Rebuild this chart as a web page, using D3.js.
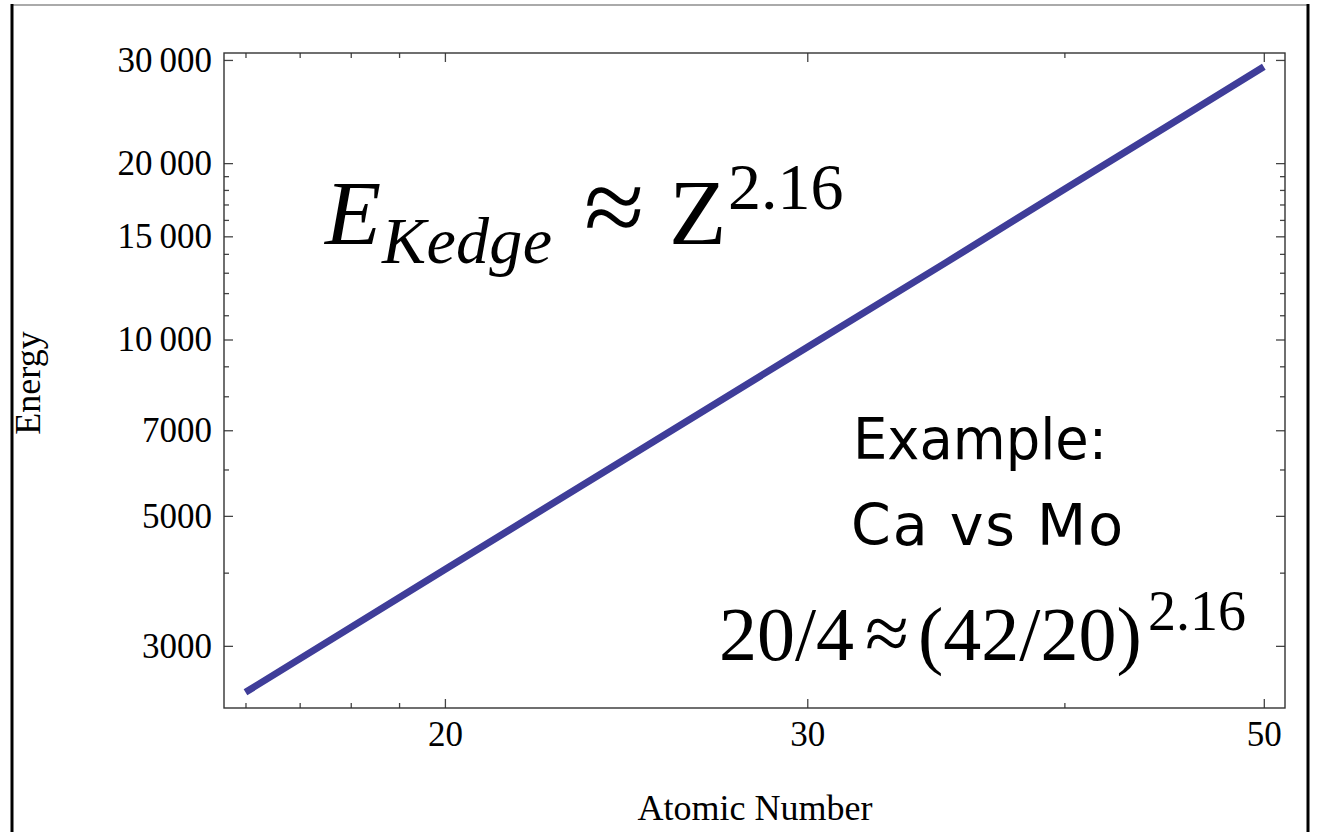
<!DOCTYPE html>
<html lang="en">
<head>
    <meta charset="UTF-8" />
    <title>K-edge energy vs atomic number</title>
    <script src="https://d3js.org/d3.v7.min.js"></script>
    <style>
        body { margin: 0; background: #fff; }
        text, tspan { font-family: "Liberation Serif", "Times New Roman", serif; fill: #000; }
    </style>
</head>
<body>
    <div id="chart"></div>

    <script>
        var w = 1317;
        var h = 832;
        var plot = { left: 224, right: 1285, top: 53, bottom: 708 };

        // line values
        var atomicNumber = [16, 20, 25, 30, 35, 40, 45, 50];
        var energy = [2500, 4050, 6550, 9700, 13500, 18050, 23250, 29200];

        // tick values
        var xMajorTicks = [20, 30, 50];
        var xMinorTicks = [16, 17, 18, 19, 40];
        var yMajorTicks = [3000, 5000, 7000, 10000, 15000, 20000, 30000];
        var yTickLabels = ["3000", "5000", "7000", "10\u2009000", "15\u2009000", "20\u2009000", "30\u2009000"];
        var yMinorTicks = [4000, 6000, 8000, 9000, 11000, 12000, 13000, 14000, 16000, 17000, 18000, 19000];

        var svg = d3.select("#chart")
            .append("svg")
            .attr("width", w)
            .attr("height", h);

        // outer frame of the slide picture
        svg.append("line")
            .attr("x1", 12).attr("x2", 1308).attr("y1", 5).attr("y2", 5)
            .attr("stroke", "#aaa").attr("stroke-width", 2);
        svg.append("line")
            .attr("x1", 12).attr("x2", 12).attr("y1", 4).attr("y2", h)
            .attr("stroke", "#000").attr("stroke-width", 3);
        svg.append("line")
            .attr("x1", 1308).attr("x2", 1308).attr("y1", 4).attr("y2", h)
            .attr("stroke", "#000").attr("stroke-width", 3);

        var xScale = d3.scaleLog()
            .domain([15.62, 51.2])
            .range([plot.left, plot.right]);

        var yScale = d3.scaleLog()
            .domain([2350, 30830])
            .range([plot.bottom, plot.top]);

        function styleAxis(g) {
            g.select(".domain").remove();
            g.selectAll(".tick line").attr("stroke", "#444").attr("stroke-width", 1.3);
            g.selectAll(".tick text")
                .style("font-family", "'Liberation Serif', 'Times New Roman', serif")
                .style("font-size", "35px")
                .attr("fill", "#000");
        }

        // bottom axis
        svg.append("g")
            .attr("transform", "translate(0," + plot.bottom + ")")
            .call(d3.axisBottom(xScale).tickValues(xMajorTicks).tickFormat(d3.format("d"))
                .tickSizeInner(-9).tickSizeOuter(0).tickPadding(13))
            .call(styleAxis);
        svg.append("g")
            .attr("transform", "translate(0," + plot.bottom + ")")
            .call(d3.axisBottom(xScale).tickValues(xMinorTicks).tickFormat("")
                .tickSizeInner(-5).tickSizeOuter(0))
            .call(styleAxis);

        // top axis (mirror, no labels)
        svg.append("g")
            .attr("transform", "translate(0," + plot.top + ")")
            .call(d3.axisTop(xScale).tickValues(xMajorTicks).tickFormat("")
                .tickSizeInner(-9).tickSizeOuter(0))
            .call(styleAxis);
        svg.append("g")
            .attr("transform", "translate(0," + plot.top + ")")
            .call(d3.axisTop(xScale).tickValues(xMinorTicks).tickFormat("")
                .tickSizeInner(-5).tickSizeOuter(0))
            .call(styleAxis);

        // left axis
        svg.append("g")
            .attr("transform", "translate(" + plot.left + ",0)")
            .call(d3.axisLeft(yScale).tickValues(yMajorTicks)
                .tickFormat(function (d, i) { return yTickLabels[i]; })
                .tickSizeInner(-9).tickSizeOuter(0).tickPadding(12))
            .call(styleAxis);
        svg.append("g")
            .attr("transform", "translate(" + plot.left + ",0)")
            .call(d3.axisLeft(yScale).tickValues(yMinorTicks).tickFormat("")
                .tickSizeInner(-5).tickSizeOuter(0))
            .call(styleAxis);

        // right axis (mirror, no labels)
        svg.append("g")
            .attr("transform", "translate(" + plot.right + ",0)")
            .call(d3.axisRight(yScale).tickValues(yMajorTicks).tickFormat("")
                .tickSizeInner(-9).tickSizeOuter(0))
            .call(styleAxis);
        svg.append("g")
            .attr("transform", "translate(" + plot.right + ",0)")
            .call(d3.axisRight(yScale).tickValues(yMinorTicks).tickFormat("")
                .tickSizeInner(-5).tickSizeOuter(0))
            .call(styleAxis);

        // plot frame
        svg.append("rect")
            .attr("x", plot.left)
            .attr("y", plot.top)
            .attr("width", plot.right - plot.left)
            .attr("height", plot.bottom - plot.top)
            .attr("fill", "none")
            .attr("stroke", "#333")
            .attr("stroke-width", 1.4);

        // the fit line
        var points = atomicNumber.map(function (z, i) { return { z: z, e: energy[i] }; });
        var line = d3.line()
            .x(function (d) { return xScale(d.z); })
            .y(function (d) { return yScale(d.e); });

        svg.append("path")
            .datum(points)
            .attr("fill", "none")
            .attr("stroke", "#3f3d99")
            .attr("stroke-width", 7)
            .attr("d", line);

        // axis titles
        svg.append("text")
            .attr("x", 755)
            .attr("y", 820)
            .attr("text-anchor", "middle")
            .style("font-size", "36px")
            .text("Atomic Number");

        svg.append("text")
            .attr("transform", "translate(40,383) rotate(-90)")
            .attr("text-anchor", "middle")
            .style("font-size", "36px")
            .text("Energy");

        // formula E_Kedge ~ Z^2.16
        var f1 = svg.append("text").attr("y", 244);
        f1.append("tspan").attr("x", 325).style("font-style", "italic").style("font-size", "92px").text("E");
        f1.append("tspan").attr("x", 382).attr("dy", 19).style("font-style", "italic").style("font-size", "66px")
            .attr("textLength", 170).text("Kedge");
        f1.append("tspan").attr("x", 584).attr("dy", -19).style("font-size", "110px").text("\u2248");
        f1.append("tspan").attr("x", 669).style("font-size", "94px").text("Z");
        f1.append("tspan").attr("x", 728).attr("dy", -35).style("font-size", "66px").text("2.16");

        // example block
        svg.append("text")
            .attr("x", 980)
            .attr("y", 459)
            .attr("text-anchor", "middle")
            .style("font-family", "'Comic Sans MS', 'DejaVu Sans', sans-serif")
            .style("font-size", "57px")
            .attr("textLength", 254)
            .attr("lengthAdjust", "spacingAndGlyphs")
            .text("Example:");

        svg.append("text")
            .attr("x", 987)
            .attr("y", 545)
            .attr("text-anchor", "middle")
            .style("font-family", "'Comic Sans MS', 'DejaVu Sans', sans-serif")
            .style("font-size", "57px")
            .attr("textLength", 272)
            .text("Ca vs Mo");

        var f2 = svg.append("text").attr("y", 660).style("font-size", "76px");
        f2.append("tspan").attr("x", 719).text("20/4");
        f2.append("tspan").attr("x", 865).style("font-size", "80px").text("\u2248");
        f2.append("tspan").attr("x", 918).text("(42/20)");
        f2.append("tspan").attr("x", 1148).attr("dy", -30).style("font-size", "56px").text("2.16");
    </script>
</body>
</html>
